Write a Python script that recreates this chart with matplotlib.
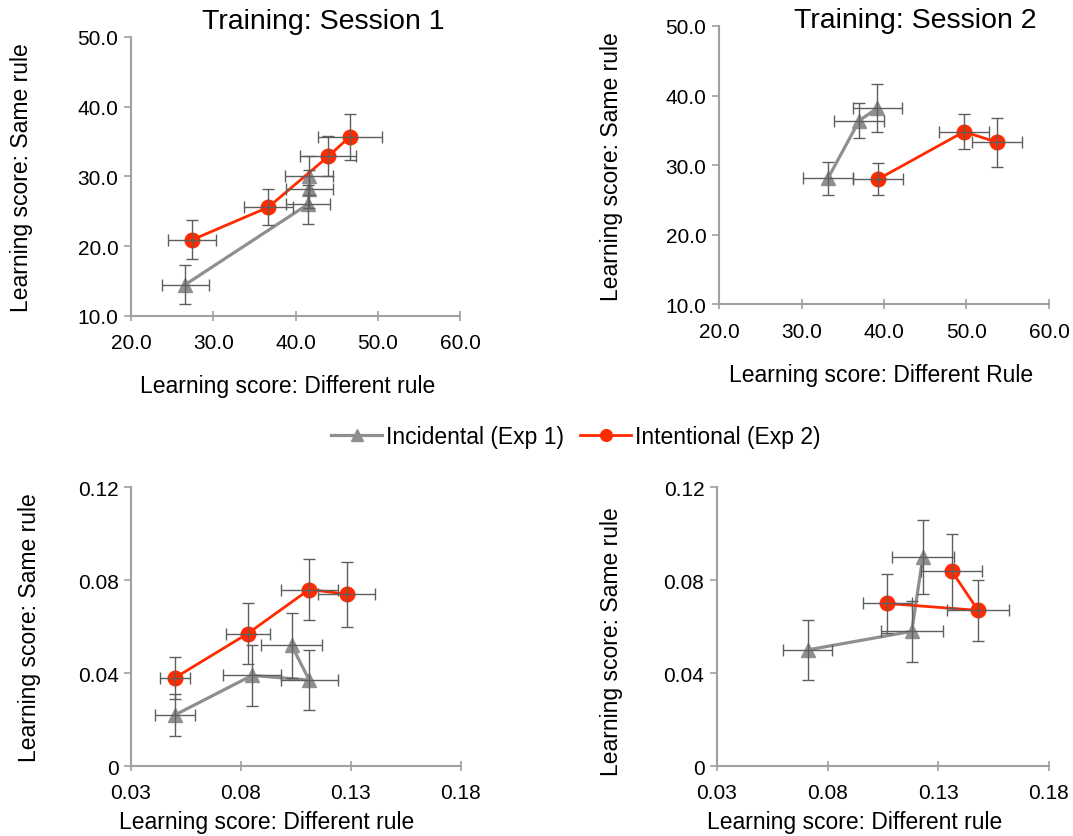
import numpy as np
import matplotlib
matplotlib.use("Agg")
import matplotlib.pyplot as plt

plt.rcParams['font.family'] = ['Liberation Sans', 'DejaVu Sans']

# ---- data ----
# Session 1, raw learning scores
s1_inc_x = [26.6, 41.5, 41.7, 41.6]
s1_inc_y = [14.5, 26.0, 28.2, 30.1]
s1_inc_xerr = [2.85, 2.7, 2.9, 2.9]
s1_inc_yerr = [2.8, 2.8, 2.7, 2.8]
s1_int_x = [27.4, 36.7, 44.0, 46.6]
s1_int_y = [20.9, 25.6, 32.9, 35.7]
s1_int_xerr = [2.95, 3.0, 3.4, 3.9]
s1_int_yerr = [2.8, 2.6, 2.9, 3.3]

# Session 2, raw learning scores
s2_inc_x = [33.2, 37.0, 39.2]
s2_inc_y = [28.1, 36.4, 38.2]
s2_inc_xerr = [3.0, 3.0, 3.0]
s2_inc_yerr = [2.4, 2.5, 3.5]
s2_int_x = [39.3, 49.7, 53.7]
s2_int_y = [28.0, 34.8, 33.3]
s2_int_xerr = [3.0, 3.0, 3.0]
s2_int_yerr = [2.35, 2.5, 3.5]

# Session 1, proportional scores
p1_inc_x = [0.050, 0.085, 0.111, 0.103]
p1_inc_y = [0.022, 0.039, 0.037, 0.052]
p1_inc_xerr = [0.009, 0.013, 0.013, 0.014]
p1_inc_yerr = [0.009, 0.013, 0.013, 0.014]
p1_int_x = [0.050, 0.083, 0.111, 0.128]
p1_int_y = [0.038, 0.057, 0.076, 0.074]
p1_int_xerr = [0.007, 0.010, 0.013, 0.013]
p1_int_yerr = [0.009, 0.013, 0.013, 0.014]

# Session 2, proportional scores
p2_inc_x = [0.071, 0.118, 0.123]
p2_inc_y = [0.050, 0.058, 0.090]
p2_inc_xerr = [0.011, 0.014, 0.014]
p2_inc_yerr = [0.013, 0.013, 0.016]
p2_int_x = [0.107, 0.148, 0.136]
p2_int_y = [0.070, 0.067, 0.084]
p2_int_xerr = [0.011, 0.014, 0.0138]
p2_int_yerr = [0.0128, 0.013, 0.0158]

series_names = ['Incidental (Exp 1)', 'Intentional (Exp 2)']

GRAY = '#8f8f8f'
RED = '#ff2a00'
ERR = '#5e5e5e'
SPINE = '#a0a0a0'

fig = plt.figure(figsize=(10.73, 8.37), dpi=100)

positions = [
    [0.1221, 0.6213, 0.3066, 0.3333],
    [0.6701, 0.6352, 0.3075, 0.3326],
    [0.1221, 0.0836, 0.3075, 0.3330],
    [0.6682, 0.0836, 0.3094, 0.3330],
]

panels = [
    (s1_inc_x, s1_inc_y, s1_inc_xerr, s1_inc_yerr, s1_int_x, s1_int_y, s1_int_xerr, s1_int_yerr),
    (s2_inc_x, s2_inc_y, s2_inc_xerr, s2_inc_yerr, s2_int_x, s2_int_y, s2_int_xerr, s2_int_yerr),
    (p1_inc_x, p1_inc_y, p1_inc_xerr, p1_inc_yerr, p1_int_x, p1_int_y, p1_int_xerr, p1_int_yerr),
    (p2_inc_x, p2_inc_y, p2_inc_xerr, p2_inc_yerr, p2_int_x, p2_int_y, p2_int_xerr, p2_int_yerr),
]

xlabels = ['Learning score: Different rule', 'Learning score: Different Rule',
           'Learning score: Different rule', 'Learning score: Different rule']
xlabel_pos = [(0.477, -0.208), (0.49, -0.209), (0.41, -0.158), (0.416, -0.158)]
ylabel_pos = [(-0.298, 0.5), (-0.291, 0.5), (-0.273, 0.5), (-0.283, 0.45)]

handles = []
for i, pos in enumerate(positions):
    ax = fig.add_axes(pos)
    ix, iy, ixe, iye, rx, ry, rxe, rye = panels[i]

    ax.errorbar(ix, iy, xerr=ixe, yerr=iye, fmt='none', ecolor=ERR,
                elinewidth=1.0, capsize=4.5, capthick=1.0, zorder=4)
    ax.errorbar(rx, ry, xerr=rxe, yerr=rye, fmt='none', ecolor=ERR,
                elinewidth=1.0, capsize=4.5, capthick=1.0, zorder=4)
    h1, = ax.plot(ix, iy, color=GRAY, lw=2.3, marker='^', ms=10,
                  mfc=GRAY, mec=GRAY, zorder=3)
    h2, = ax.plot(rx, ry, color=RED, lw=2.0, marker='o', ms=10.5,
                  mfc=RED, mec=RED, zorder=3)
    if i == 0:
        handles = [h1, h2]

    if i < 2:
        ax.set_xlim(20, 60)
        ax.set_ylim(10, 50)
        ax.set_xticks(np.arange(20, 61, 10))
        ax.set_yticks(np.arange(10, 51, 10))
        ax.set_xticklabels(['%.1f' % v for v in np.arange(20, 61, 10)])
        ax.set_yticklabels(['%.1f' % v for v in np.arange(10, 51, 10)])
    else:
        ax.set_xlim(0.03, 0.18)
        ax.set_ylim(0, 0.12)
        ax.set_xticks([0.03, 0.08, 0.13, 0.18])
        ax.set_xticklabels(['0.03', '0.08', '0.13', '0.18'])
        ax.set_yticks([0, 0.04, 0.08, 0.12])
        ax.set_yticklabels(['0', '0.04', '0.08', '0.12'])

    for s in ['top', 'right']:
        ax.spines[s].set_visible(False)
    for s in ['left', 'bottom']:
        ax.spines[s].set_color(SPINE)
        ax.spines[s].set_linewidth(1.5)
    ax.tick_params(axis='y', direction='out', length=5, width=1.2,
                   color=SPINE, labelsize=15, pad=4)
    ax.tick_params(axis='x', direction='inout', length=7, width=1.2,
                   color=SPINE, labelsize=15, pad=9)

    ax.set_xlabel(xlabels[i], fontsize=16.5)
    ax.set_ylabel('Learning score: Same rule', fontsize=16.5)
    ax.xaxis.set_label_coords(*xlabel_pos[i])
    ax.yaxis.set_label_coords(*ylabel_pos[i])
    ax.patch.set_alpha(0)

    if i == 0:
        ax.text(0.584, 1.058, 'Training: Session 1', transform=ax.transAxes,
                ha='center', va='center', fontsize=20.5)
    if i == 1:
        ax.text(0.595, 1.02, 'Training: Session 2', transform=ax.transAxes,
                ha='center', va='center', fontsize=20.5)

fig.legend(handles, series_names, loc='center', bbox_to_anchor=(0.537, 0.477),
           ncol=2, frameon=False, fontsize=16.5, handlelength=2.2,
           handletextpad=0.2, columnspacing=0.7, markerscale=0.8)

fig.savefig('out.png', dpi=100)
